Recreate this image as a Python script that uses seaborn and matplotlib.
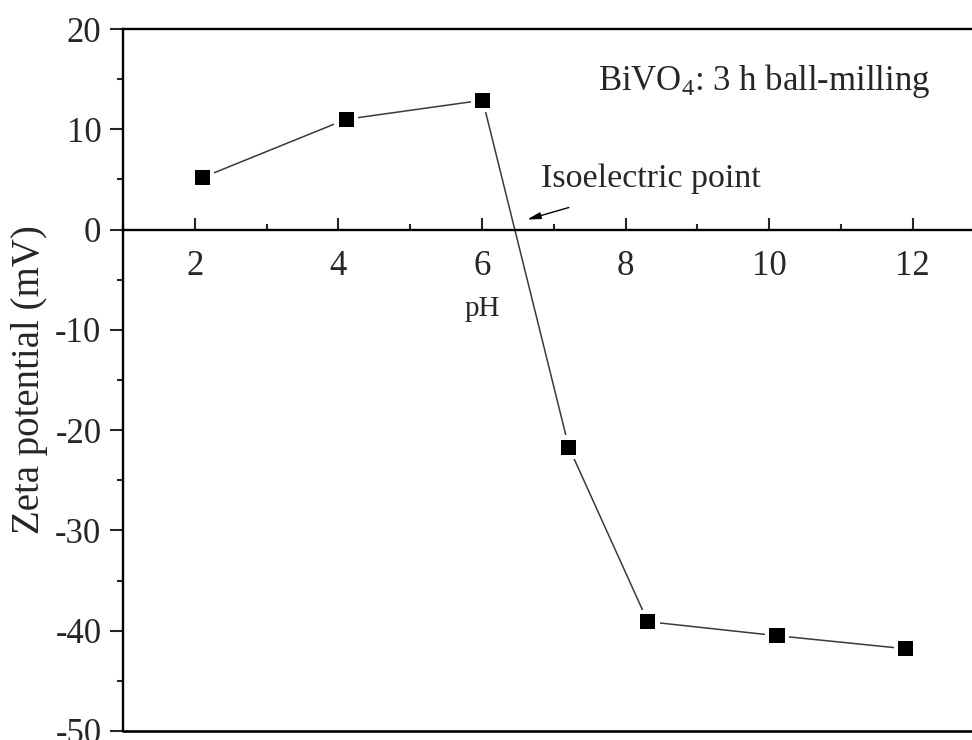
import numpy as np
import pandas as pd
import seaborn as sns
import matplotlib.pyplot as plt
from matplotlib.ticker import MultipleLocator

ph = [2.11, 4.11, 6.01, 7.21, 8.31, 10.11, 11.9]
zeta = [5.2, 11.0, 12.9, -21.7, -39.1, -40.5, -41.8]

x_ticks = [2, 4, 6, 8, 10, 12]
y_ticks = [-50, -40, -30, -20, -10, 0, 10, 20]

df = pd.DataFrame({'pH': ph, 'zeta': zeta})

sns.set_style('ticks')
plt.rcParams['font.family'] = ['Liberation Serif', 'DejaVu Serif']
plt.rcParams['mathtext.fontset'] = 'custom'
plt.rcParams['mathtext.rm'] = 'Liberation Serif'
plt.rcParams['mathtext.it'] = 'Liberation Serif:italic'
plt.rcParams['axes.unicode_minus'] = False

fig = plt.figure(figsize=(9.72, 7.40), dpi=100)
ax = fig.add_axes([0.1265, 0.0122, 0.8864, 0.9486])

# Linie und Marker (weisser Rand fuer die Luecke wie in Origin)
sns.lineplot(data=df, x='pH', y='zeta', ax=ax, color='#3a3a3a', linewidth=1.1)
sns.scatterplot(data=df, x='pH', y='zeta', ax=ax, marker='s', s=290,
                color='white', edgecolor='none', zorder=3)
sns.scatterplot(data=df, x='pH', y='zeta', ax=ax, marker='s', s=118,
                color='black', edgecolor='none', zorder=4)

ax.set_xlim(1, 13)
ax.set_ylim(-50, 20)

# Achsen
for s in ['left', 'top', 'right', 'bottom']:
    ax.spines[s].set_linewidth(1.7)
    ax.spines[s].set_color('black')
ax.spines['bottom'].set_position(('data', 0))
ax.axhline(-50, color='black', linewidth=1.9, clip_on=False)

ax.set_xticks(x_ticks)
ax.set_yticks(y_ticks)
ax.xaxis.set_minor_locator(MultipleLocator(1))
ax.yaxis.set_minor_locator(MultipleLocator(5))
ax.tick_params(axis='x', which='major', direction='in', length=9, width=1.5,
               labelsize=25, pad=15, top=False)
ax.tick_params(axis='x', which='minor', direction='in', length=4.5, width=1.5, top=False)
ax.tick_params(axis='y', which='major', direction='out', length=9.5, width=1.5,
               labelsize=25, pad=6, right=False)
ax.tick_params(axis='y', which='minor', direction='out', length=4.5, width=1.5, right=False)

ax.set_xlabel('')
ax.set_ylabel('Zeta potential (mV)', fontsize=28, labelpad=5)
ax.text(6.01, -7.9, 'pH', fontsize=21, ha='center', va='center')

ax.text(7.62, 13.9, 'BiVO$_4$: 3 h ball-milling', fontsize=25, ha='left', va='baseline')
ax.text(6.82, 4.2, 'Isoelectric point', fontsize=24.5, ha='left', va='baseline')
ax.annotate('', xy=(6.63, 1.0), xytext=(7.21, 2.2),
            arrowprops=dict(arrowstyle='-|>,head_length=0.8,head_width=0.2',
                            color='black', lw=1.0, shrinkA=0, shrinkB=0))

fig.savefig('out.png', dpi=100)
